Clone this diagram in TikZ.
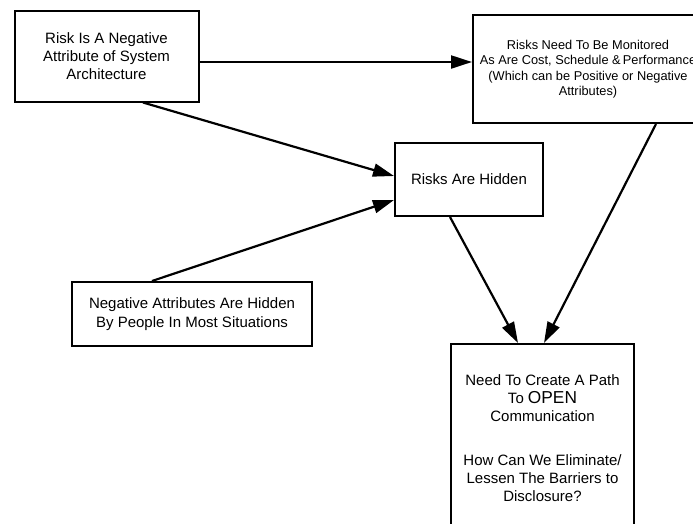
\documentclass[tikz,border=0pt]{standalone}
\usepackage{fontspec}
\setmainfont{Liberation Sans}
\usetikzlibrary{arrows.meta}

\begin{document}
\begin{tikzpicture}[x=1pt,y=-1pt]

        \useasboundingbox (0,0) rectangle (693,523);

        \begin{scope}[every node/.style={draw,line width=2pt,inner sep=0pt,align=center,
                      font=\fontsize{15}{18.3}\selectfont}]
          \node[minimum width=184pt,minimum height=91pt] (risk)  at (106.5,56) {Risk Is A Negative\\Attribute of System\\Architecture};
          \node[minimum width=230pt,minimum height=108pt,font=\fontsize{12.8}{15.4}\selectfont] (monitor) at (588,69)
            {Risks Need To Be Monitored\\As Are Cost, Schedule \&\,Performance\\(Which can be Positive or Negative\\Attributes)};
          \node[minimum width=148pt,minimum height=73pt] (hidden) at (469,179.5) {Risks Are Hidden};
          \node[minimum width=240pt,minimum height=64pt] (people) at (192,314) {Negative Attributes Are Hidden\\By People In Most Situations};
          \node[minimum width=183pt,minimum height=188pt] (open) at (542.5,438)
            {Need To Create A Path\\To {\fontsize{17.3}{18.3}\selectfont OPEN}\\Communication\\[25pt]How Can We Eliminate/\\Lessen The Barriers to\\Disclosure?};
        \end{scope}

        \begin{scope}[every edge/.style={draw,line width=2.2pt,-{Triangle[length=21pt,width=13pt]}}]
          \path ([yshift=-6pt]risk.east) edge ([yshift=-6pt]risk.east -| monitor.west);
          \path ([xshift=36.5pt]risk.south) edge ([yshift=3.5pt]hidden.west);
          \path ([xshift=-40pt]people.north) edge ([yshift=-20.5pt]hidden.west);
          \path ([xshift=-19pt]hidden.south) edge ([xshift=-24.5pt]open.north);
          \path ([xshift=68pt]monitor.south) edge ([xshift=1.5pt]open.north);
        \end{scope}

      \end{tikzpicture}
\end{document}
